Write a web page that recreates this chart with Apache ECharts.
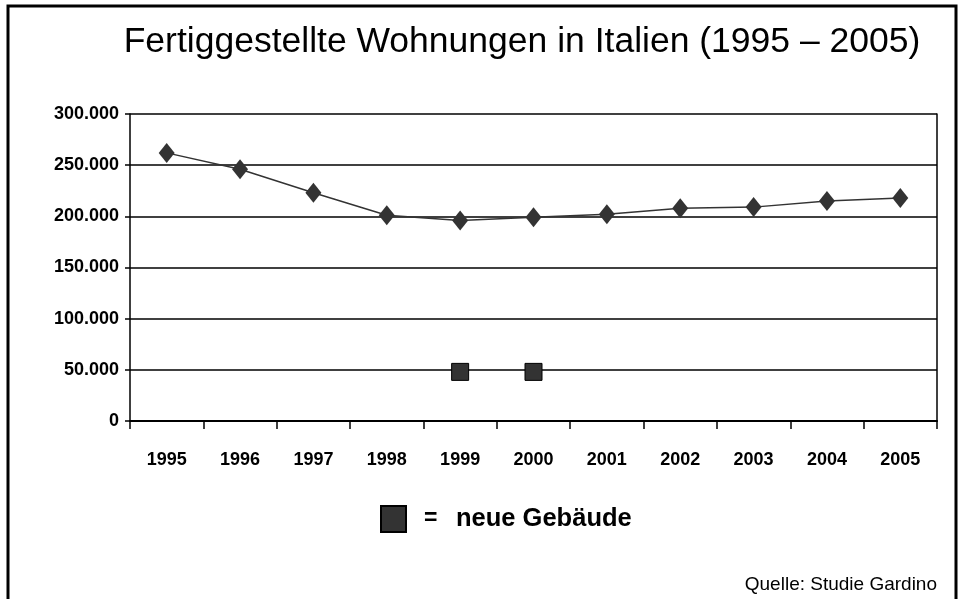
<!DOCTYPE html>
<html>
<head>
<meta charset="utf-8">
<style>
    html, body {margin: 0; padding: 0; background: #fff;}
    #main {width: 959px; height: 599px;}
</style>
<script src="https://cdn.jsdelivr.net/npm/echarts@6/dist/echarts.min.js"></script>
</head>
<body>
<div id="main"></div>
<script>
    // Jahre
    var years = ['1995', '1996', '1997', '1998', '1999', '2000', '2001', '2002', '2003', '2004', '2005'];
    // fertiggestellte Wohnungen
    var wohnungen = [262000, 246000, 223000, 201000, 196000, 199000, 202000, 208000, 209000, 215000, 218000];
    // neue Gebäude (nur 1999 und 2000)
    var neueGebaeude = [null, null, null, null, 48000, 48000, null, null, null, null, null];

    var font = 'Liberation Sans, Arial, sans-serif';

    function fmtThousand(v) {
        return String(v).replace(/\B(?=(\d{3})+(?!\d))/g, '.');
    }

    var myChart = echarts.init(document.getElementById('main'));
    var opt = {
        animation: false,
        title: {
            text: 'Fertiggestellte Wohnungen in Italien (1995 – 2005)',
            left: 517,
            textAlign: 'center',
            top: 19,
            textStyle: {fontFamily: font, fontSize: 35.5, fontWeight: 'normal', color: '#000'}
        },
        grid: {left: 130, right: 22, top: 114, bottom: 178},
        legend: {
            left: 375,
            top: 500,
            data: ['neue Gebäude'],
            icon: 'rect',
            itemWidth: 25,
            itemHeight: 26,
            itemGap: 0,
            formatter: function (name) {
                return '{eq|=}{t|' + name + '}';
            },
            textStyle: {
                fontFamily: font,
                rich: {
                    eq: {fontSize: 23, fontWeight: 'bold', color: '#000', width: 32, padding: [0, 0, 0, 13]},
                    t: {fontSize: 25.5, fontWeight: 'bold', color: '#000'}
                }
            }
        },
        xAxis: {
            type: 'category',
            data: years,
            boundaryGap: true,
            axisLine: {lineStyle: {color: '#000', width: 2}},
            axisTick: {show: true, length: 8, lineStyle: {color: '#000', width: 1.5}},
            axisLabel: {margin: 30, fontFamily: font, fontSize: 18, fontWeight: 'bold', color: '#000'}
        },
        yAxis: [{
            type: 'value',
            min: 0,
            max: 300000,
            interval: 50000,
            axisLine: {show: true, lineStyle: {color: '#000', width: 1.5}},
            axisTick: {show: true, length: 5, lineStyle: {color: '#000', width: 1.5}},
            splitLine: {lineStyle: {color: '#000', width: 1.5}},
            axisLabel: {
                margin: 11,
                fontFamily: font,
                fontSize: 18,
                fontWeight: 'bold',
                color: '#000',
                formatter: fmtThousand
            }
        }, {
            type: 'value',
            position: 'right',
            min: 0,
            max: 300000,
            interval: 50000,
            axisLine: {show: true, lineStyle: {color: '#000', width: 1.5}},
            axisTick: {show: false},
            axisLabel: {show: false},
            splitLine: {show: false}
        }],
        series: [{
            name: 'Wohnungen',
            type: 'line',
            data: wohnungen,
            symbol: 'diamond',
            symbolSize: [16, 20],
            lineStyle: {color: '#333', width: 1.5},
            itemStyle: {color: '#333', opacity: 1},
            z: 5
        }, {
            name: 'neue Gebäude',
            type: 'scatter',
            data: neueGebaeude,
            symbol: 'rect',
            symbolSize: 17,
            itemStyle: {color: '#333', borderColor: '#000', borderWidth: 1, opacity: 1},
            z: 5
        }],
        graphic: [{
            type: 'polyline',
            shape: {points: [[8, 599], [8, 6], [956, 6], [956, 599]]},
            style: {stroke: '#000', lineWidth: 3, fill: null}
        }, {
            type: 'text',
            right: 22,
            top: 575,
            style: {text: 'Quelle: Studie Gardino', fontFamily: font, fontSize: 19, fill: '#000'}
        }]
    };
    myChart.setOption(opt);
</script>
</body>
</html>
